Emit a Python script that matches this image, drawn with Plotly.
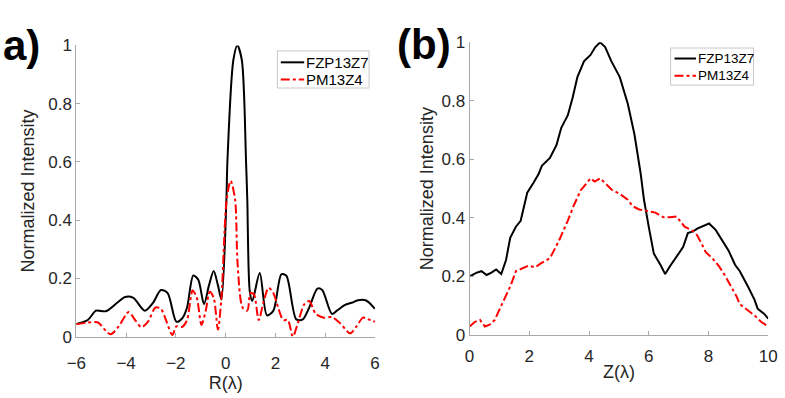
import plotly.graph_objects as go

# ---------------- data: panel a ----------------
r_fzp = [-6, -5.54, -5.21, -4.82, -4.36, -4.04, -3.71, -3.25, -2.92, -2.6, -2.33, -1.98, -1.75, -1.55,
         -1.3, -1.1, -0.87, -0.67, -0.48, -0.31, -0.17, 0.03, 0.07, 0.31, 0.47, 0.65, 0.82, 0.87, 0.97,
         1.07, 1.37, 1.66, 1.92, 2.24, 2.44, 2.84, 3.1, 3.36, 3.69, 3.88, 4.27, 4.47, 4.8, 5.06, 5.32,
         5.65, 6]
i_fzp = [0.043, 0.057, 0.089, 0.087, 0.116, 0.136, 0.133, 0.089, 0.116, 0.16, 0.149, 0.051, 0.062, 0.10,
         0.21, 0.195, 0.111, 0.176, 0.225, 0.176, 0.127, 0.47, 0.6, 0.95, 1.0, 0.95, 0.6, 0.47, 0.155,
         0.122, 0.218, 0.073, 0.089, 0.214, 0.209, 0.059, 0.059, 0.10, 0.165, 0.16, 0.078, 0.089, 0.109,
         0.116, 0.125, 0.124, 0.095]

r_pm = [-6, -5.54, -5.15, -4.63, -4.3, -3.9, -3.64, -3.38, -3.12, -2.82, -2.6, -2.4, -2.14, -1.98, -1.75,
        -1.55, -1.33, -1.16, -0.97, -0.8, -0.64, -0.48, -0.31, -0.17, 0.04, 0.2, 0.38, 0.48, 0.68, 0.87,
        1.0, 1.14, 1.33, 1.53, 1.73, 1.92, 2.11, 2.31, 2.5, 2.7, 2.9, 3.16, 3.36, 3.62, 3.95, 4.27, 4.6,
        5.0, 5.26, 5.52, 5.71, 6]
i_pm = [0.042, 0.048, 0.049, 0.008, 0.035, 0.084, 0.057, 0.032, 0.051, 0.10, 0.095, 0.057, 0.005, 0.035,
        0.033, 0.057, 0.158, 0.133, 0.04, 0.089, 0.154, 0.133, 0.024, 0.134, 0.47, 0.535, 0.47, 0.25, 0.1,
        0.089, 0.15, 0.144, 0.057, 0.122, 0.168, 0.149, 0.10, 0.057, 0.057, 0.0, 0.046, 0.111, 0.122,
        0.078, 0.065, 0.067, 0.046, 0.011, 0.035, 0.065, 0.06, 0.051]

# ---------------- data: panel b ----------------
z_fzp = [0, 0.24, 0.40, 0.57, 0.73, 0.89, 1.06, 1.22, 1.36, 1.55, 1.71, 1.87, 1.93, 2.14, 2.31, 2.42,
         2.69, 2.91, 3.07, 3.29, 3.45, 3.61, 3.83, 4.05, 4.21, 4.37, 4.54, 4.75, 5.03, 5.3, 5.52, 5.73,
         5.84, 6.01, 6.17, 6.39, 6.55, 6.71, 6.93, 7.15, 7.31, 7.48, 7.64, 7.86, 8.02, 8.24, 8.45, 8.67,
         8.89, 9.05, 9.33, 9.54, 9.65, 9.87, 10]
iz_fzp = [0.20, 0.213, 0.218, 0.205, 0.213, 0.224, 0.208, 0.256, 0.332, 0.37, 0.39, 0.456, 0.486, 0.52,
          0.55, 0.578, 0.605, 0.649, 0.708, 0.751, 0.811, 0.881, 0.935, 0.957, 0.984, 1.0, 0.984, 0.935,
          0.881, 0.789, 0.686, 0.551, 0.462, 0.364, 0.278, 0.24, 0.208, 0.235, 0.267, 0.30, 0.348,
          0.354, 0.364, 0.375, 0.381, 0.359, 0.326, 0.289, 0.24, 0.218, 0.164, 0.121, 0.089, 0.072, 0.056]

z_pm = [0, 0.18, 0.35, 0.51, 0.67, 0.84, 1.06, 1.22, 1.38, 1.55, 1.71, 1.98, 2.2, 2.36, 2.69, 2.85, 3.01,
        3.29, 3.5, 3.72, 3.94, 4.05, 4.19, 4.37, 4.54, 4.75, 5.03, 5.3, 5.46, 5.68, 5.95, 6.22, 6.5, 6.71,
        6.93, 7.09, 7.2, 7.42, 7.58, 7.75, 7.91, 8.13, 8.35, 8.56, 8.78, 8.94, 9.05, 9.33, 9.54, 9.76, 10]
iz_pm = [0.029, 0.045, 0.051, 0.029, 0.035, 0.051, 0.10, 0.137, 0.17, 0.218, 0.226, 0.237, 0.231, 0.243,
         0.262, 0.294, 0.326, 0.391, 0.445, 0.494, 0.521, 0.535, 0.524, 0.535, 0.519, 0.497, 0.482,
         0.462, 0.44, 0.429, 0.424, 0.418, 0.402, 0.402, 0.405, 0.386, 0.37, 0.359, 0.348, 0.316, 0.283,
         0.262, 0.235, 0.202, 0.164, 0.132, 0.105, 0.083, 0.067, 0.045, 0.029]

ytick_vals = [0, 0.2, 0.4, 0.6, 0.8, 1]
ytick_text = ["0", "0.2", "0.4", "0.6", "0.8", "1"]
xa_ticks = [-6, -4, -2, 0, 2, 4, 6]
xb_ticks = [0, 2, 4, 6, 8, 10]
names = ["FZP13Z7", "PM13Z4"]
colors = ["black", "#ff0000"]
dashes = ["solid", "dashdot"]

W, H = 785, 398
FONT = "Liberation Sans, Arial, Helvetica, sans-serif"
AX = "#262626"
LINE = "#a8a8a8"

fig = go.Figure()
fig.add_trace(go.Scatter(x=r_fzp, y=i_fzp, mode="lines", name=names[0],
                         line=dict(color=colors[0], width=2, shape="spline", smoothing=0.8),
                         xaxis="x", yaxis="y"))
fig.add_trace(go.Scatter(x=r_pm, y=i_pm, mode="lines", name=names[1],
                         line=dict(color=colors[1], width=2, dash=dashes[1], shape="spline", smoothing=0.8),
                         xaxis="x", yaxis="y"))
fig.add_trace(go.Scatter(x=z_fzp, y=iz_fzp, mode="lines", name=names[0],
                         line=dict(color=colors[0], width=2),
                         xaxis="x2", yaxis="y2"))
fig.add_trace(go.Scatter(x=z_pm, y=iz_pm, mode="lines", name=names[1],
                         line=dict(color=colors[1], width=2, dash=dashes[1]),
                         xaxis="x2", yaxis="y2"))


def px_x(p):
    return p / W


def px_y(p):
    return 1 - p / H


common = dict(showgrid=False, zeroline=False, showline=True, linecolor=LINE, linewidth=1,
              ticks="inside", ticklen=4, tickcolor=LINE, mirror=False,
              tickfont=dict(family=FONT, size=17, color=AX))

shapes = []
annotations = []


def add_legend(box, line_x, text_x, rows, fsize):
    x0, y0, x1, y1 = box
    shapes.append(dict(type="rect", xref="paper", yref="paper",
                       x0=px_x(x0), x1=px_x(x1), y0=px_y(y1), y1=px_y(y0),
                       line=dict(color="#c8c8c8", width=1), fillcolor="white", layer="above"))
    for k, ry in enumerate(rows):
        shapes.append(dict(type="line", xref="paper", yref="paper",
                           x0=px_x(line_x[0]), x1=px_x(line_x[1]), y0=px_y(ry), y1=px_y(ry),
                           line=dict(color=colors[k], width=2, dash=dashes[k]), layer="above"))
        annotations.append(dict(text=names[k], xref="paper", yref="paper",
                                x=px_x(text_x), y=px_y(ry), xanchor="left", yanchor="middle",
                                showarrow=False, borderpad=0,
                                font=dict(family=FONT, size=fsize, color="black")))


add_legend((274, 44, 368, 83), (277.5, 301.5), 302, (56, 74), 15)
add_legend((677, 41, 762, 80), (681, 703), 704, (52, 70), 13.5)

annotations.append(dict(text="<b>a)</b>", x=px_x(33), y=px_y(38), xref="paper", yref="paper",
                        xanchor="right", yanchor="middle", showarrow=False,
                        font=dict(family=FONT, size=42, color="black")))
annotations.append(dict(text="<b>(b)</b>", x=px_x(395), y=px_y(37), xref="paper", yref="paper",
                        xanchor="left", yanchor="middle", showarrow=False,
                        font=dict(family=FONT, size=42, color="black")))

fig.update_layout(
    width=W, height=H,
    margin=dict(l=0, r=0, t=0, b=0),
    paper_bgcolor="white", plot_bgcolor="white",
    font=dict(family=FONT, color=AX),
    showlegend=False,
    xaxis=dict(domain=[px_x(68), px_x(374)], range=[-6, 6], tickvals=xa_ticks, anchor="y",
               ticklabelstandoff=11,
               title=dict(text="R(λ)", font=dict(size=18, color=AX), standoff=1), **common),
    yaxis=dict(domain=[px_y(344), px_y(38.3)], range=[0, 1], tickvals=ytick_vals, ticktext=ytick_text,
               anchor="x", title=dict(text="Normalized Intensity", font=dict(size=18, color=AX), standoff=9),
               **common),
    xaxis2=dict(domain=[px_x(471), px_x(777)], range=[0, 10], tickvals=xb_ticks, anchor="y2",
                ticklabelstandoff=6,
                title=dict(text="Z(λ)", font=dict(size=18, color=AX), standoff=0), **common),
    yaxis2=dict(domain=[px_y(342.3), px_y(35)], range=[0, 1], tickvals=ytick_vals, ticktext=ytick_text,
                anchor="x2", title=dict(text="Normalized Intensity", font=dict(size=18, color=AX), standoff=3),
                **common),
    shapes=shapes,
    annotations=annotations,
)

fig.write_html("out.html")
